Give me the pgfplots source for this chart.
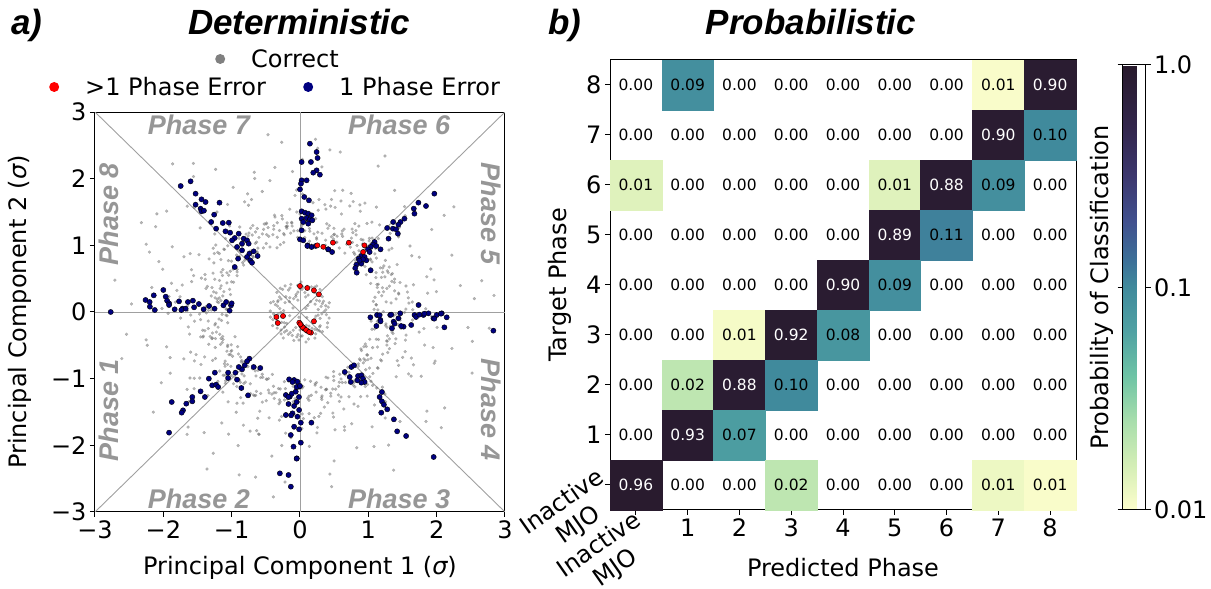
\documentclass[border=0pt]{standalone}
\usepackage{pgfplots}
\pgfplotsset{compat=1.18}
\usepackage{pgfplotstable}
\usepackage{graphicx}
\usepackage{fontspec}
\setmainfont{DejaVu Sans}
\newfontfamily\arialf{Liberation Sans}
\definecolor{phasegray}{RGB}{150,150,150}
\definecolor{navyblue}{RGB}{0,0,128}
\definecolor{linegray}{RGB}{160,160,160}
\definecolor{dotgray}{RGB}{110,110,110}
\newcommand\tickfont{\fontsize{24}{28}\selectfont}
\newcommand\cellfont{\fontsize{15.5}{18}\selectfont}
\newcommand\titlefont{\arialf\bfseries\itshape\fontsize{35}{40}\selectfont}
\newcommand\phasefont{\arialf\bfseries\itshape\fontsize{27}{30}\selectfont}

\pgfplotstableread{
x y p w
0 8 0.00 0
1 8 0.09 0
2 8 0.00 0
3 8 0.00 0
4 8 0.00 0
5 8 0.00 0
6 8 0.00 0
7 8 0.01 0
8 8 0.90 1
0 7 0.00 0
1 7 0.00 0
2 7 0.00 0
3 7 0.00 0
4 7 0.00 0
5 7 0.00 0
6 7 0.00 0
7 7 0.90 1
8 7 0.10 0
0 6 0.01 0
1 6 0.00 0
2 6 0.00 0
3 6 0.00 0
4 6 0.00 0
5 6 0.01 0
6 6 0.88 1
7 6 0.09 0
8 6 0.00 0
0 5 0.00 0
1 5 0.00 0
2 5 0.00 0
3 5 0.00 0
4 5 0.00 0
5 5 0.89 1
6 5 0.11 0
7 5 0.00 0
8 5 0.00 0
0 4 0.00 0
1 4 0.00 0
2 4 0.00 0
3 4 0.00 0
4 4 0.90 1
5 4 0.09 0
6 4 0.00 0
7 4 0.00 0
8 4 0.00 0
0 3 0.00 0
1 3 0.00 0
2 3 0.01 0
3 3 0.92 1
4 3 0.08 0
5 3 0.00 0
6 3 0.00 0
7 3 0.00 0
8 3 0.00 0
0 2 0.00 0
1 2 0.02 0
2 2 0.88 1
3 2 0.10 0
4 2 0.00 0
5 2 0.00 0
6 2 0.00 0
7 2 0.00 0
8 2 0.00 0
0 1 0.00 0
1 1 0.93 1
2 1 0.07 0
3 1 0.00 0
4 1 0.00 0
5 1 0.00 0
6 1 0.00 0
7 1 0.00 0
8 1 0.00 0
0 0 0.96 1
1 0 0.00 0
2 0 0.00 0
3 0 0.02 0
4 0 0.00 0
5 0 0.00 0
6 0 0.00 0
7 0 0.01 0
8 0 0.01 0
}\labels

\pgfplotstableread{
x y c
1 8 0.09
7 8 0.0105
8 8 0.90
7 7 0.90
8 7 0.10
0 6 0.014
5 6 0.014
6 6 0.88
7 6 0.09
5 5 0.89
6 5 0.11
4 4 0.90
5 4 0.09
2 3 0.011
3 3 0.92
4 3 0.08
1 2 0.02
2 2 0.88
3 2 0.10
1 1 0.93
2 1 0.07
0 0 0.96
3 0 0.02
7 0 0.012
8 0 0.0105
}\cells

\begin{document}
\begin{tikzpicture}
\useasboundingbox (0pt,0pt) rectangle (1211pt,589pt);

% ---------------- Left: deterministic scatter ----------------
\begin{axis}[
  at={(95pt,77pt)}, anchor=south west,
  scale only axis, width=410pt, height=400pt,
  xmin=-3, xmax=3, ymin=-3, ymax=3,
  xtick={-3,-2,-1,0,1,2,3}, ytick={-3,-2,-1,0,1,2,3},
  xticklabels={−3,−2,−1,0,1,2,3},
  yticklabels={−3,−2,−1,0,1,2,3},
  xtick pos=bottom, ytick pos=left,
  tick align=outside, major tick length=5pt,
  tick style={black, line width=1pt},
  axis line style={black, line width=1pt},
  tick label style={font=\tickfont},
  label style={font=\tickfont},
  xlabel={Principal Component 1 ({\itshape σ})},
  ylabel={Principal Component 2 ({\itshape σ})},
  xlabel style={at={(axis description cs:0.5,-0.14)}, anchor=center},
  ylabel style={at={(axis description cs:-0.183,0.5)}, anchor=center},
]
\addplot[linegray, line width=0.9pt, forget plot] coordinates {(-3,-3) (3,3)};
\addplot[linegray, line width=0.9pt, forget plot] coordinates {(-3,3) (3,-3)};
\addplot[linegray, line width=0.9pt, forget plot] coordinates {(-3,0) (3,0)};
\addplot[linegray, line width=0.9pt, forget plot] coordinates {(0,-3) (0,3)};

% Correct (grey), given as (angle in degrees, radius)
\addplot[only marks, mark=*, mark size=1.55pt, data cs=polar,
  mark options={draw=dotgray, fill=dotgray, line width=0.1pt, opacity=0.5}, forget plot] coordinates {
(0.3,1.22) (1.2,1.65) (1.5,1.84) (1.65,1.14)
(5.7,1.12) (5.2,1.65) (4.5,2.56) (5.85,1.34)
(6.9,1.27) (8.6,1.89) (8.7,2.02) (7.95,1.42)
(11.1,1.47) (10.6,1.47) (9.6,2.38) (11.55,1.22)
(12.9,1.42) (13.8,1.71) (13.8,2.02) (13.95,1.26)
(15.6,1.32) (16.8,1.53) (15.9,1.93) (16.8,1.26)
(18.9,1.42) (19.6,1.47) (18.6,2.02) (19.95,1.22)
(23.1,1.47) (23,1.35) (21,2.38) (23.55,1.30)
(24.6,1.42) (26.6,1.59) (25.2,1.93) (25.8,1.42)
(27.3,1.47) (29.4,1.41) (27.3,1.84) (28.65,1.38)
(31.8,1.47) (31.6,1.89) (32.7,2.29) (32.4,1.22)
(35.7,1.17) (35.4,1.65) (34.5,2.56) (35.85,1.38)
(36.3,1.02) (38,1.83) (38.4,1.84) (37.65,1.30)
(39.6,1.02) (41.8,1.77) (41.1,1.93) (40.8,1.46)
(43.2,1.47) (43.8,1.59) (43.2,2.11) (44.1,1.26)
(46.5,1.47) (46.4,1.53) (45.9,2.20) (47.25,1.18)
(48,1.37) (50.6,1.41) (48.3,1.75) (49.5,1.42)
(52.8,1.22) (52,1.71) (52.8,2.29) (53.4,1.10)
(54.6,1.42) (56.2,1.47) (54.6,1.93) (55.8,1.34)
(57,1.42) (59.8,1.89) (59.7,1.75) (58.5,1.46)
(62.4,1.32) (61.4,1.83) (62.4,2.47) (62.7,1.18)
(63,1.17) (64.8,1.83) (65.4,1.75) (64.5,1.26)
(66.6,1.27) (67.6,1.59) (67.2,1.93) (67.8,1.22)
(69.6,1.07) (70.2,1.77) (71.1,1.93) (70.8,1.14)
(72,1.32) (74.4,1.89) (74.7,1.75) (73.5,1.38)
(77.4,1.12) (76.2,1.59) (76.2,2.47) (77.7,1.14)
(80.4,1.02) (80.6,1.71) (79.8,2.47) (80.7,1.42)
(82.5,1.07) (82.6,1.47) (81.6,2.20) (83.25,1.22)
(86.4,1.12) (85.6,1.35) (84,2.47) (86.7,1.22)
(88.8,1.32) (88.8,1.77) (89.1,2.29) (89.4,1.26)
(90,1.47) (91.6,1.83) (92.4,1.75) (91.5,1.22)
(94.2,1.22) (95.2,1.35) (93,2.11) (95.1,1.34)
(98.7,1.27) (98,1.35) (96,2.56) (98.85,1.30)
(100.5,1.42) (100.4,1.47) (99.6,2.20) (101.25,1.18)
(102.9,1.07) (104.4,1.47) (102.6,2.02) (103.95,1.38)
(106.5,1.17) (107,1.89) (107.7,2.20) (107.25,1.30)
(109.2,1.02) (110.6,1.41) (108.3,2.11) (110.1,1.42)
(111.6,1.42) (112.8,1.83) (113.4,1.93) (112.8,1.26)
(114.3,1.07) (115.2,1.77) (116.1,1.84) (115.65,1.14)
(118.2,1.27) (118,1.47) (117.6,2.11) (119.1,1.10)
(122.4,1.22) (121.2,1.35) (120,2.47) (122.7,1.14)
(123.6,1.37) (124,1.41) (123.3,1.93) (124.8,1.10)
(128.7,1.17) (128.6,1.65) (127.5,2.56) (128.85,1.42)
(129.6,1.07) (130.2,1.35) (129,1.93) (130.8,1.14)
(133.5,1.27) (134,1.89) (134.7,2.20) (134.25,1.30)
(136.8,1.22) (136.8,1.71) (136.1,2.29) (137.4,1.26)
(138.6,1.12) (140.8,1.59) (139.2,1.93) (139.8,1.46)
(143.4,1.47) (143,1.59) (142.2,2.47) (143.7,1.30)
(146.7,1.17) (145,1.53) (144.9,2.56) (146.85,1.10)
(149.4,1.07) (149.8,1.71) (148.8,2.47) (149.7,1.46)
(151.2,1.22) (151.4,1.83) (152.4,2.11) (152.1,1.18)
(155.4,1.07) (154,1.89) (155.7,2.47) (155.7,1.10)
(158.1,1.27) (158.2,1.71) (157.8,2.38) (158.55,1.34)
(160.5,1.47) (160.6,1.53) (159.9,2.20) (161.25,1.22)
(163.2,1.22) (164.2,1.41) (162.3,2.11) (164.1,1.34)
(165.6,1.42) (166.8,1.77) (167.1,1.93) (166.8,1.26)
(169.5,1.32) (169.8,1.83) (170.4,2.20) (170.25,1.26)
(171.6,1.17) (172.6,1.77) (173.1,1.93) (172.8,1.22)
(176.4,1.32) (175.4,1.83) (177.2,2.47) (176.7,1.38)
(177.9,1.07) (179.2,1.65) (178.5,2.02) (178.95,1.34)
(180.6,1.37) (181.2,1.47) (180.6,1.93) (181.8,1.14)
(183,1.07) (185.8,1.35) (183,1.75) (184.5,1.46)
(188.7,1.07) (187.8,1.65) (187.5,2.56) (188.85,1.26)
(190.8,1.22) (191.6,1.65) (190.5,2.29) (191.4,1.42)
(193.8,1.32) (194.8,1.47) (192.6,2.29) (194.4,1.46)
(195.9,1.22) (197.2,1.35) (195,2.02) (196.95,1.34)
(198.9,1.22) (200.6,1.71) (199.8,2.02) (199.95,1.42)
(201.3,1.02) (202.8,1.65) (202.5,1.84) (202.65,1.26)
(205.2,1.17) (205.4,1.71) (205.8,2.11) (206.1,1.18)
(208.8,1.22) (209.6,1.47) (207.6,2.29) (209.4,1.42)
(210.3,1.17) (211.6,1.89) (212.7,1.84) (211.65,1.22)
(213.9,1.32) (214,1.77) (215.1,2.02) (214.95,1.10)
(216.6,1.32) (217,1.47) (216.6,1.93) (217.8,1.10)
(220.2,1.47) (220.9,1.59) (219.6,2.11) (221.1,1.14)
(222.3,1.12) (224.4,1.53) (222.9,1.84) (223.65,1.38)
(227.1,1.12) (226.8,1.65) (226.5,2.38) (227.55,1.26)
(230.4,1.37) (229,1.35) (228,2.47) (230.7,1.10)
(232.8,1.32) (232,1.71) (232.2,2.29) (233.4,1.10)
(234.9,1.07) (236,1.65) (235.5,2.02) (235.95,1.30)
(239.4,1.42) (238.2,1.77) (239.1,2.47) (239.7,1.14)
(241.2,1.42) (242.6,1.41) (240.3,2.11) (242.1,1.42)
(244.5,1.12) (244,1.89) (245.7,2.20) (245.25,1.10)
(246.6,1.02) (248.8,1.71) (247.8,1.93) (247.8,1.46)
(249.6,1.42) (250.4,1.89) (251.7,1.93) (250.8,1.18)
(252.6,1.27) (253.8,1.35) (252,1.93) (253.8,1.26)
(257.7,1.07) (257.4,1.41) (255.3,2.56) (257.85,1.38)
(259.5,1.17) (260.2,1.59) (259.2,2.20) (260.25,1.34)
(261.9,1.32) (263.4,1.83) (262.4,2.02) (262.95,1.38)
(266.7,1.12) (266,1.89) (265.1,2.56) (266.85,1.30)
(267,1.17) (269.2,1.35) (267,1.75) (268.5,1.34)
(270,1.07) (271.2,1.53) (270.9,1.75) (271.5,1.14)
(273.9,1.02) (275,1.53) (273.9,2.02) (274.95,1.30)
(276,1.27) (277.8,1.83) (278.4,1.75) (277.5,1.26)
(281.4,1.12) (280,1.59) (280.2,2.47) (281.7,1.10)
(283.8,1.32) (284,1.47) (282.6,2.29) (284.4,1.30)
(285.3,1.17) (287.6,1.59) (286.2,1.84) (286.65,1.42)
(288.3,1.22) (290.2,1.89) (290.7,1.84) (289.65,1.34)
(292.5,1.07) (293.8,1.59) (292.2,2.20) (293.25,1.46)
(294.3,1.27) (295.2,1.41) (294.3,1.84) (295.65,1.14)
(298.8,1.02) (299.8,1.59) (298.2,2.29) (299.4,1.46)
(300.9,1.17) (301,1.65) (301.5,2.02) (301.95,1.10)
(305.1,1.12) (305.4,1.35) (303,2.38) (305.55,1.38)
(306.9,1.32) (308,1.77) (308.1,2.02) (307.95,1.30)
(310.5,1.47) (311,1.89) (311.7,2.20) (311.25,1.30)
(312.3,1.47) (314,1.53) (312.9,1.84) (313.65,1.30)
(315,1.47) (316.4,1.41) (315.3,1.75) (316.5,1.18)
(320.4,1.32) (319.2,1.41) (318.3,2.47) (320.7,1.14)
(323.1,1.17) (323.6,1.41) (321.3,2.38) (323.55,1.42)
(326.7,1.17) (325.4,1.71) (325.8,2.56) (326.85,1.18)
(327.3,1.07) (329.4,1.89) (329.7,1.84) (328.65,1.38)
(330.9,1.07) (331,1.65) (331.5,2.02) (331.95,1.10)
(333.3,1.07) (335.6,1.65) (334.5,1.84) (334.65,1.42)
(337.2,1.42) (337,1.77) (338.6,2.11) (338.1,1.10)
(340.2,1.22) (341.2,1.47) (339.6,2.11) (341.1,1.34)
(342.9,1.37) (344.8,1.89) (344.7,2.02) (343.95,1.46)
(346.8,1.12) (347.4,1.59) (346.2,2.29) (347.4,1.38)
(350.7,1.27) (350.2,1.77) (350.1,2.56) (350.85,1.34)
(351.9,1.27) (352.2,1.83) (353.4,2.02) (352.95,1.14)
(356.4,1.47) (355.2,1.47) (354.6,2.47) (356.7,1.14)
(357.6,1.37) (359.8,1.53) (357.9,1.93) (358.8,1.46)
(2.1,1.085) (1.65,1.55) (5.4,1.12) (4.8,1.60) (8.4,1.085) (7.65,1.60)
(11.4,1.12) (10.8,1.60) (14.4,1.19) (14.1,1.60) (16.5,1.365) (17.85,1.45)
(18,1.19) (20.1,1.20) (22.5,1.12) (22.8,1.45) (24.9,1.225) (26.25,1.35)
(27.9,1.26) (29.4,1.35) (30,1.12) (31.8,1.20) (35.4,1.295) (35.55,1.60)
(37.2,1.295) (38.55,1.40) (39.3,1.155) (40.95,1.25) (43.5,1.12) (43.8,1.45)
(46.8,1.26) (47.4,1.50) (48.6,1.19) (50.1,1.30) (53.7,1.295) (53.55,1.65)
(56.1,1.225) (56.25,1.55) (59.1,1.12) (58.8,1.55) (61.2,1.295) (62.55,1.40)
(63,1.365) (65.85,1.20) (66.9,1.26) (68.4,1.35) (71.7,1.365) (71.85,1.65)
(74.7,1.225) (74.25,1.65) (77.7,1.225) (77.25,1.65) (80.1,1.19) (80.1,1.55)
(83.7,1.26) (83.4,1.65) (85.8,1.365) (86.85,1.50) (88.8,1.295) (89.55,1.50)
(91.8,1.12) (91.8,1.50) (95.1,1.295) (95.55,1.55) (96.6,1.19) (98.1,1.30)
(99,1.295) (101.55,1.20) (103.8,1.26) (104.4,1.50) (105.9,1.05) (106.5,1.35)
(108.9,1.225) (110.25,1.35) (111.9,1.225) (113.25,1.35) (115.2,1.295) (116.55,1.40)
(118.5,1.365) (119.85,1.45) (121.2,1.225) (122.25,1.40) (125.1,1.085) (124.65,1.55)
(126.9,1.33) (128.7,1.35) (129.6,1.085) (130.65,1.30) (134.1,1.33) (134.7,1.55)
(136.5,1.12) (136.8,1.45) (139.5,1.085) (139.65,1.45) (142.8,1.26) (143.4,1.50)
(145.2,1.12) (145.8,1.40) (149.1,1.19) (149.1,1.55) (150.6,1.295) (152.55,1.30)
(154.2,1.26) (155.4,1.40) (157.8,1.155) (157.95,1.50) (161.7,1.085) (160.65,1.65)
(164.7,1.155) (163.95,1.65) (165.6,1.05) (166.5,1.30) (168,1.155) (169.95,1.20)
(171,1.225) (173.25,1.20) (176.7,1.365) (176.85,1.65) (177.6,1.085) (178.65,1.30)
(182.4,1.085) (181.65,1.60) (185.1,1.19) (185.1,1.55) (186.3,1.155) (187.95,1.25)
(190.5,1.365) (190.85,1.45) (193.8,1.26) (194.4,1.50) (195.6,1.365) (197.85,1.30)
(198,1.19) (200.1,1.20) (201.9,1.225) (203.25,1.35) (206.1,1.12) (205.8,1.55)
(209.7,1.05) (208.5,1.65) (210,1.155) (211.95,1.20) (213.9,1.19) (215.1,1.35)
(216.6,1.365) (218.85,1.30) (220.5,1.12) (220.8,1.45) (223.8,1.05) (223.5,1.50)
(226.5,1.365) (227.85,1.45) (229.5,1.26) (230.4,1.45) (231.9,1.05) (232.5,1.35)
(236.1,1.155) (235.95,1.55) (239.4,1.085) (238.65,1.60) (240.9,1.12) (241.8,1.35)
(243.9,1.12) (244.8,1.35) (248.4,1.26) (248.4,1.60) (249.6,1.295) (251.55,1.30)
(254.7,1.19) (254.1,1.65) (255.9,1.19) (257.1,1.35) (260.7,1.05) (259.5,1.65)
(263.1,1.26) (263.4,1.55) (264.9,1.12) (265.8,1.35) (267.9,1.155) (268.95,1.35)
(272.4,1.12) (271.8,1.60) (275.7,1.33) (275.7,1.65) (278.4,1.05) (277.5,1.60)
(281.1,1.225) (281.25,1.55) (282.9,1.085) (283.65,1.35) (287.7,1.225) (287.25,1.65)
(288.6,1.225) (290.25,1.30) (291.3,1.05) (292.5,1.25) (294.3,1.365) (296.85,1.25)
(297,1.085) (298.65,1.20) (300.3,1.225) (302.25,1.25) (305.1,1.155) (304.95,1.55)
(308.4,1.155) (307.95,1.60) (310.2,1.085) (310.65,1.40) (314.4,1.295) (314.55,1.60)
(317.7,1.155) (316.95,1.65) (318,1.295) (320.55,1.20) (321,1.12) (322.8,1.20)
(324.3,1.225) (326.25,1.25) (328.2,1.05) (328.5,1.40) (332.4,1.365) (332.85,1.60)
(333.3,1.19) (335.1,1.25) (338.7,1.365) (338.85,1.65) (339.9,1.19) (341.1,1.35)
(344.4,1.33) (344.7,1.60) (346.2,1.085) (346.65,1.40) (349.8,1.295) (350.55,1.50)
(352.5,1.05) (352.5,1.45) (356.7,1.12) (355.8,1.65) (358.2,1.19) (358.5,1.40)
(10,2.7) (35,2.75) (62,2.65) (85,2.6) (100,2.7) (125,2.72) (150,2.68)
(170,2.75) (195,2.7) (215,2.62) (240,2.72) (262,2.8) (280,2.66) (300,2.74)
(320,2.7) (340,2.68) (5,2.85) (130,2.9) (250,2.6) (355,2.78)
(1,0.352) (5,0.38) (14,0.388) (15,0.32) (21,0.352) (25,0.38) (35,0.40) (36,0.30)
(49,0.448) (45,0.22) (52,0.364) (55,0.36) (66,0.412) (65,0.28) (75,0.40) (76,0.30)
(83,0.376) (85,0.34) (95,0.40) (96,0.30) (108,0.436) (105,0.24) (119,0.448) (115,0.22)
(127,0.424) (125,0.26) (139,0.448) (135,0.22) (143,0.376) (145,0.34) (152,0.364) (155,0.36)
(163,0.376) (165,0.34) (178,0.436) (175,0.24) (184,0.388) (185,0.32) (196,0.412) (195,0.28)
(202,0.364) (205,0.36) (216,0.412) (215,0.28) (224,0.388) (225,0.32) (233,0.376) (235,0.34)
(243,0.376) (245,0.34) (258,0.436) (255,0.24) (263,0.376) (265,0.34) (272,0.364) (275,0.36)
(287,0.424) (285,0.26) (299,0.448) (295,0.22) (305,0.40) (306,0.30) (310,0.34) (315,0.40)
(322,0.364) (325,0.36) (338,0.436) (335,0.24) (348,0.436) (345,0.24) (354,0.388) (355,0.32)
(30,0.10) (150,0.12) (260,0.08) (40,0.15) (200,0.16) (320,0.13) (100,0.18) (280,0.17)
(10,0.42) (30,0.33) (60,0.43) (90,0.35) (112,0.39) (132,0.31) (158,0.42) (170,0.30)
(190,0.44) (210,0.31) (230,0.43) (250,0.29) (268,0.42) (292,0.33) (318,0.44) (342,0.31)
(8,0.27) (18,0.45) (28,0.25) (42,0.37) (58,0.46) (70,0.24) (88,0.45) (102,0.27)
(117,0.37) (129,0.46) (147,0.26) (162,0.45) (181,0.28) (188,0.37) (207,0.45) (221,0.26)
(238,0.46) (252,0.37) (270,0.27) (281,0.46) (302,0.25) (313,0.37) (330,0.46) (350,0.27)
};

% 1 Phase Error (blue)
\addplot[only marks, mark=*, mark size=2.6pt, mark options={draw=none, fill=navyblue}, forget plot] coordinates {
(-1.746,1.89) (-1.601,1.96) (-1.528,1.775) (-1.441,1.69) (-1.382,1.65) (-1.528,1.61)
(-1.455,1.55) (-1.441,1.51) (-1.406,1.52) (-1.256,1.46) (-1.178,1.64) (-1.30,1.35)
(-1.227,1.25) (-1.13,1.335) (-1.042,1.34) (-1.091,1.21) (-1.023,1.19) (-0.897,1.175)
(-0.955,1.11) (-0.994,1.075) (-0.824,1.10) (-0.775,1.075) (-0.921,0.975) (-0.848,1.025)
(-0.751,1.025) (-0.848,0.925) (-0.741,0.875) (-0.678,0.91) (-0.62,0.84) (-0.775,0.825)
(-0.727,0.775) (-0.702,0.74) (-0.906,0.80) (-0.955,0.675)
(-2.77,0.0) (-2.26,0.18) (-2.2,0.15) (-2.14,0.25) (-2.125,0.03) (-2.0,0.33) (-1.965,0.23)
(-1.945,0.17) (-1.916,0.13) (-1.834,0.04) (-1.77,0.16) (-1.72,0.05) (-1.673,0.05)
(-1.64,0.15) (-1.567,0.17) (-1.48,0.12) (-1.41,0.04) (-1.33,0.09) (-1.25,0.05) (-1.12,0.10)
(-1.08,0.15) (-1.01,0.10) (-1.0,0.13) (-1.03,0.02) (-2.197,0.08) (-1.916,0.105) (-1.736,0.03) (-1.55,0.07)
(0.145,2.525) (0.243,2.40) (0.257,2.31) (0.024,2.25) (0.16,2.25) (0.243,2.125) (0.194,2.09)
(0.291,2.06) (0.024,1.975) (0.097,1.975) (0.014,1.925) (0.0,1.84) (0.063,1.725) (0.131,1.675)
(0.024,1.51) (0.073,1.49) (0.121,1.475) (0.17,1.45) (0.024,1.40) (0.097,1.41) (0.145,1.39)
(0.18,1.375) (0.048,1.35) (0.121,1.325) (0.024,1.225) (0.0,1.09) (0.048,1.075) (0.111,1.0)
(0.17,0.975) (0.412,0.94) (0.47,0.90) (0.108,0.99) (0.23,0.99) (0.414,0.94)
(1.966,1.775) (1.733,1.64) (1.844,1.59) (1.665,1.55) (1.675,1.475) (1.529,1.40) (1.471,1.35)
(1.364,1.35) (1.441,1.31) (1.276,1.26) (1.359,1.25) (1.407,1.24) (1.432,1.175) (1.296,1.10)
(1.092,1.05) (1.068,1.01) (1.034,0.975) (1.116,0.99) (1.179,0.94) (0.995,0.94) (1.019,0.90)
(0.898,0.84) (0.859,0.80) (0.946,0.825) (0.971,0.775) (0.888,0.75) (0.825,0.71) (0.81,0.66)
(0.83,0.59) (1.034,0.625) (0.898,0.725) (0.92,0.79) (0.87,0.77)
(1.03,-0.08) (1.127,-0.045) (1.118,-0.21) (1.176,-0.12) (1.32,-0.045) (1.346,-0.245)
(1.37,-0.145) (1.44,-0.095) (1.467,-0.02) (1.516,-0.22) (1.628,-0.195) (1.676,-0.045)
(1.735,0.105) (1.807,-0.045) (1.88,-0.02) (1.953,-0.095) (2.0,-0.045) (2.074,-0.02)
(2.113,-0.23) (2.147,-0.08) (2.83,-0.28) (1.165,-0.05) (1.179,-0.14) (1.335,-0.04)
(1.383,-0.175) (1.48,-0.21) (1.699,-0.075) (1.747,-0.04) (1.82,-0.025) (1.966,-0.10) (2.063,-0.025)
(0.655,-0.90) (0.752,-0.825) (0.791,-0.80) (0.728,-0.975) (0.743,-1.05) (0.849,-0.96)
(0.898,-0.95) (0.922,-1.0) (0.946,-1.05) (0.898,-1.06) (0.84,-1.025) (1.199,-1.2)
(1.165,-1.275) (1.199,-1.34) (1.228,-1.39) (1.277,-1.46) (1.189,-1.51) (1.374,-1.61)
(1.422,-1.79) (1.553,-1.86) (1.956,-2.175)
(-0.159,-1.01) (-0.086,-1.02) (-0.037,-1.045) (-0.013,-1.12) (-0.207,-1.245) (-0.149,-1.27)
(-0.062,-1.195) (-0.168,-1.38) (-0.086,-1.41) (-0.013,-1.47) (-0.207,-1.545) (-0.11,-1.52)
(-0.037,-1.57) (0.012,-1.66) (0.167,-1.66) (-0.086,-1.72) (-0.013,-1.76) (-0.135,-1.845)
(0.012,-1.96) (-0.095,-2.02) (-0.047,-2.195) (-0.295,-2.42) (-0.168,-2.445) (-0.134,-2.62)
(-0.11,-1.05) (-0.12,-1.225) (-0.169,-1.275) (-0.13,-1.55) (-0.049,-1.125) (0.0,-1.11)
(-0.015,-1.275) (-0.049,-1.35) (-0.049,-2.2)
(-0.741,-0.70) (-0.775,-0.74) (-0.809,-0.80) (-0.678,-0.825) (-0.581,-0.84) (-0.848,-0.86)
(-0.896,-0.825) (-0.945,-0.91) (-1.052,-0.91) (-1.246,-0.91) (-1.052,-0.99) (-0.921,-1.015)
(-1.334,-1.0) (-1.285,-1.10) (-1.227,-1.09) (-1.198,-1.125) (-0.858,-1.14) (-0.76,-1.25)
(-1.455,-1.19) (-1.392,-1.275) (-1.576,-1.275) (-1.576,-1.34) (-1.664,-1.375) (-1.712,-1.475)
(-1.732,-1.51) (-1.877,-1.35) (-1.916,-1.81)
};

% >1 Phase Error (red)
\addplot[only marks, mark=*, mark size=2.6pt, mark options={draw=none, fill=red}, forget plot] coordinates {
(0.254,1.0) (0.341,0.978) (0.482,1.04) (0.715,1.04) (0.943,1.0) (0.924,0.90)
(0.0,0.39) (0.107,0.36) (0.204,0.325) (0.277,0.265)
(-0.345,-0.075) (-0.248,-0.06) (-0.325,-0.165)
(-0.01,-0.16) (0.024,-0.21) (0.063,-0.25) (0.112,-0.285) (0.16,-0.31) (0.204,-0.14)
(0.04,-0.23) (0.09,-0.27) (0.135,-0.30) (0.005,-0.185)
};

\node[font=\phasefont, text=phasegray] at (axis cs:-1.48,2.8) {Phase 7};
\node[font=\phasefont, text=phasegray] at (axis cs:1.45,2.8) {Phase 6};
\node[font=\phasefont, text=phasegray] at (axis cs:-1.48,-2.8) {Phase 2};
\node[font=\phasefont, text=phasegray] at (axis cs:1.45,-2.8) {Phase 3};
\node[font=\phasefont, text=phasegray, rotate=90] at (axis cs:-2.8,1.47) {Phase 8};
\node[font=\phasefont, text=phasegray, rotate=90] at (axis cs:-2.8,-1.47) {Phase 1};
\node[font=\phasefont, text=phasegray, rotate=-90] at (axis cs:2.8,1.47) {Phase 5};
\node[font=\phasefont, text=phasegray, rotate=-90] at (axis cs:2.8,-1.47) {Phase 4};
\end{axis}

% legends (hidden axes with the same geometry)
\begin{axis}[at={(95pt,77pt)}, anchor=south west, scale only axis, width=410pt, height=400pt,
  hide axis, xmin=0, xmax=1, ymin=0, ymax=1,
  legend style={at={(axis description cs:0.2927,1.1325)}, anchor=west, draw=none, fill=none,
    inner sep=0pt, font=\tickfont, nodes={inner sep=0pt}}]
\addlegendimage{legend image code/.code={\fill[gray, draw=none] (5pt,0pt) circle (5pt); \path[draw=none, fill=none] (0pt,-5pt) rectangle (36pt,5pt);}}
\addlegendentry{Correct}
\end{axis}
\begin{axis}[at={(95pt,77pt)}, anchor=south west, scale only axis, width=410pt, height=400pt,
  hide axis, xmin=0, xmax=1, ymin=0, ymax=1,
  legend style={at={(axis description cs:-0.1122,1.0625)}, anchor=west, draw=none, fill=none,
    inner sep=0pt, font=\tickfont, nodes={inner sep=0pt}}]
\addlegendimage{legend image code/.code={\fill[red, draw=none] (5pt,0pt) circle (5pt); \path[draw=none, fill=none] (0pt,-5pt) rectangle (36pt,5pt);}}
\addlegendentry{>1 Phase Error}
\end{axis}
\begin{axis}[at={(95pt,77pt)}, anchor=south west, scale only axis, width=410pt, height=400pt,
  hide axis, xmin=0, xmax=1, ymin=0, ymax=1,
  legend style={at={(axis description cs:0.5073,1.0625)}, anchor=west, draw=none, fill=none,
    inner sep=0pt, font=\tickfont, nodes={inner sep=0pt}}]
\addlegendimage{legend image code/.code={\fill[navyblue, draw=none] (5pt,0pt) circle (5pt); \path[draw=none, fill=none] (0pt,-5pt) rectangle (36pt,5pt);}}
\addlegendentry{1 Phase Error}
\end{axis}

% ---------------- Right: probabilistic heat map ----------------
\begin{axis}[
  at={(610pt,79pt)}, anchor=south west,
  scale only axis, width=466pt, height=450pt,
  xmin=-0.5, xmax=8.5, ymin=-0.5, ymax=8.5,
  xtick={1,...,8}, ytick={1,...,8},
  extra x ticks={0}, extra x tick labels={{Inactive\\MJO}},
  extra y ticks={0},
  extra y tick labels={{\rotatebox{35}{\begin{tabular}{@{}c@{}}Inactive\\MJO\end{tabular}}}},
  extra x tick style={tick label style={rotate=35, anchor=north east, align=center, xshift=4pt, yshift=11pt}},
  extra y tick style={tick label style={yshift=-30pt, xshift=25pt}},
  xtick pos=bottom, ytick pos=left,
  tick align=outside, major tick length=5pt,
  tick style={black, line width=1pt},
  axis line style={black, line width=1pt},
  tick label style={font=\tickfont},
  label style={font=\tickfont},
  /pgf/number format/assume math mode=true,
  xlabel={Predicted Phase}, ylabel={Target Phase},
  xlabel style={at={(axis description cs:0.5,-0.127)}, anchor=center},
  ylabel style={at={(axis description cs:-0.107,0.5)}, anchor=center},
  colormap={deep}{rgb255(0cm)=(253,254,204); rgb255(1cm)=(212,238,182); rgb255(2cm)=(168,222,172);
    rgb255(3cm)=(110,196,165); rgb255(4cm)=(80,162,163); rgb255(5cm)=(64,138,156);
    rgb255(5.6cm)=(60,112,152); rgb255(6.5cm)=(65,80,142); rgb255(7.5cm)=(60,55,110);
    rgb255(8.6cm)=(50,38,76); rgb255(10cm)=(40,26,44)},
  point meta min=-2, point meta max=0,
  colorbar,
  colorbar style={
    at={(parent axis.south east)}, anchor=south west, xshift=38pt,
    width=23pt, height=445pt,
    ytick={-2,-1,0}, yticklabels={0.01,0.1,1.0},
    yticklabel style={font=\tickfont},
    tick align=outside, major tick length=5pt,
    tick style={black, line width=1pt},
    axis line style={black, line width=1pt},
    ylabel={Probability of Classification},
    ylabel style={font=\tickfont, at={(axis description cs:-0.26,0.5)}, anchor=south},
  },
]
\addplot[scatter, only marks, mark=square*, mark size=25pt,
  mark options={xscale=1.0356, line width=0.4pt},
  scatter/use mapped color={draw=mapped color, fill=mapped color},
  point meta={log10(\thisrow{c})}] table[x=x, y=y] {\cells};
\addplot[only marks, mark=none, nodes near coords, point meta=explicit symbolic,
  nodes near coords align=center,
  every node near coord/.append style={font=\cellfont, text=black},
  restrict expr to domain={\thisrow{w}}{-0.5:0.5}] table[x=x, y=y, meta=p] {\labels};
\addplot[only marks, mark=none, nodes near coords, point meta=explicit symbolic,
  nodes near coords align=center,
  every node near coord/.append style={font=\cellfont, text=white},
  restrict expr to domain={\thisrow{w}}{0.5:1.5}] table[x=x, y=y, meta=p] {\labels};
\end{axis}

% titles
\node[anchor=base west, font=\titlefont] at (8pt,554pt) {a)};
\node[anchor=base, font=\titlefont] at (299pt,554pt) {Deterministic};
\node[anchor=base west, font=\titlefont] at (545pt,554pt) {b)};
\node[anchor=base, font=\titlefont] at (811pt,554pt) {Probabilistic};
\end{tikzpicture}
\end{document}
